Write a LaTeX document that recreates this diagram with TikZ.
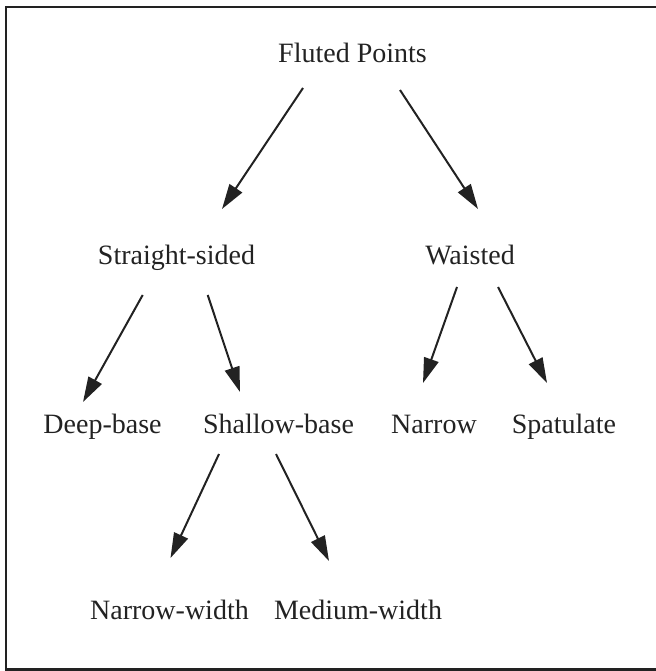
\documentclass[tikz,border=0pt]{standalone}
\usepackage{fontspec}
\setmainfont{Liberation Serif}
\usetikzlibrary{arrows.meta}
\definecolor{ink}{HTML}{222222}
\begin{document}
\begin{tikzpicture}[x=1pt,y=-1pt,
  lbl/.style={anchor=base,inner sep=0pt,font=\fontsize{28}{30}\selectfont,text=ink},
  conn/.style={draw=ink,line width=2pt,-{Triangle[length=25pt,width=15pt]}},
  frame/.style={draw=ink,line width=2.4pt}]
\useasboundingbox (0,0) rectangle (655,671);
\draw[frame] (665,7.2) -- (5.8,7.2) -- (5.8,669.5) -- (665,669.5);
% nodes
\node[lbl] (fp) at (352.5,63) {Fluted Points};
\node[lbl] (ss) at (176.5,264) {Straight-sided};
\node[lbl] (wa) at (470,264) {Waisted};
\node[lbl] (db) at (102.5,433) {Deep-base};
\node[lbl] (sb) at (278.5,433) {Shallow-base};
\node[lbl] (na) at (434,433) {Narrow};
\node[lbl] (sp) at (564,433) {Spatulate};
\node[lbl] (nw) at (169.5,619) {Narrow-width};
\node[lbl] (mw) at (358,619) {Medium-width};
% connector end points
\coordinate (fp-l) at (303,88);   \coordinate (ss-t) at (222,209);
\coordinate (fp-r) at (400,90);   \coordinate (wa-t) at (478,209);
\coordinate (ss-l) at (142.7,295); \coordinate (db-t) at (83,402);
\coordinate (ss-r) at (207.7,295); \coordinate (sb-t) at (240,392);
\coordinate (wa-l) at (457,287);  \coordinate (na-t) at (423,383);
\coordinate (wa-r) at (498,287);  \coordinate (sp-t) at (547,383);
\coordinate (sb-l) at (219,454);  \coordinate (nw-t) at (170.5,558);
\coordinate (sb-r) at (276,454);  \coordinate (mw-t) at (329,561);
% connectors
\draw[conn] (fp-l) -- (ss-t);
\draw[conn] (fp-r) -- (wa-t);
\draw[conn] (ss-l) -- (db-t);
\draw[conn] (ss-r) -- (sb-t);
\draw[conn] (wa-l) -- (na-t);
\draw[conn] (wa-r) -- (sp-t);
\draw[conn] (sb-l) -- (nw-t);
\draw[conn] (sb-r) -- (mw-t);
\end{tikzpicture}
\end{document}
